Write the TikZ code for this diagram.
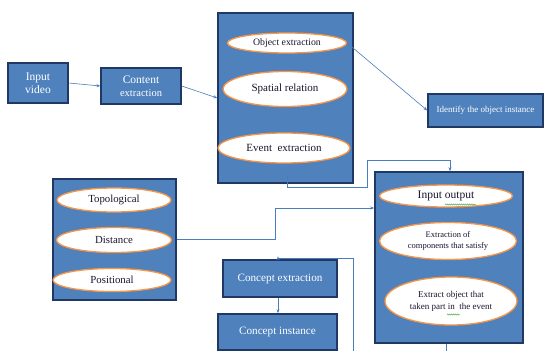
\documentclass[tikz,border=0pt]{standalone}
\usepackage{fontspec}
\setmainfont{Liberation Serif}
\usetikzlibrary{shapes.geometric,arrows.meta,decorations.pathmorphing}
\definecolor{boxblue}{HTML}{4F81BD}
\definecolor{boxedge}{HTML}{1F3864}
\definecolor{ovaledge}{HTML}{F79646}
\definecolor{connblue}{HTML}{4A7EBB}
\definecolor{ovaltext}{HTML}{1A1530}
\definecolor{spellgreen}{HTML}{3CA03C}
\newcommand\myfs[2]{\fontsize{#1}{#2}\selectfont}
\tikzset{
  bluebox/.style={draw=boxedge, fill=boxblue, line width=1.4pt, text=white,
    inner sep=0pt, align=center},
  oval/.style={ellipse, draw=ovaledge, fill=white, line width=1.3pt,
    text=ovaltext, inner sep=0pt, align=center},
  conn/.style={draw=connblue, line width=0.6pt},
  arr/.style={conn, -{Stealth[length=4pt,width=3pt]}},
  squiggle/.style={draw=spellgreen, line width=0.4pt,
    decorate, decoration={snake, amplitude=0.6pt, segment length=2pt}},
}
\begin{document}
\begin{tikzpicture}[x=1pt,y=-1pt]
\useasboundingbox (0,0) rectangle (544,351);
% boxes
\node[bluebox, minimum width=60pt, minimum height=40pt, font=\myfs{11.5}{13}] (invid) at (38,83) {Input\\video};
\node[bluebox, minimum width=80pt, minimum height=36pt, font=\myfs{11.5}{12.5}] (content) at (141,86) {Content\\{\myfs{10.5}{12}extraction}};
\node[bluebox, minimum width=135pt, minimum height=170pt] (big1) at (285.5,98) {};
\node[bluebox, minimum width=115pt, minimum height=33pt, font=\myfs{9}{10}] (identify) at (485.5,110.5) {Identify the object instance};
\node[bluebox, minimum width=123pt, minimum height=121pt] (leftbox) at (114.5,239.5) {};
\node[bluebox, minimum width=148pt, minimum height=171pt] (box2) at (449,257.5) {};
\node[bluebox, minimum width=114pt, minimum height=37pt, font=\myfs{11.2}{13}] (cext) at (280,278.5) {Concept extraction};
\node[bluebox, minimum width=119pt, minimum height=36pt, font=\myfs{11.2}{13}] (cinst) at (277.5,332) {Concept instance};
% ellipses
\node[oval, minimum width=119pt, minimum height=20pt, font=\myfs{9.8}{11}] (objext) at (287,43) {Object extraction};
\node[oval, minimum width=124pt, minimum height=35pt, font=\myfs{11}{13}] (spatial) at (285,89) {Spatial relation};
\node[oval, minimum width=132pt, minimum height=30pt, font=\myfs{11}{13}] (eventext) at (284,148) {Event\ \ extraction};
\node[oval, minimum width=133pt, minimum height=22pt, font=\myfs{11.5}{13}] (io) at (446,196) {Input output};
\node[oval, minimum width=137pt, minimum height=37pt, font=\myfs{8.5}{11}] (extcomp) at (448,241) {Extraction of\\components that satisfy};
\node[oval, minimum width=132pt, minimum height=48pt, font=\myfs{9}{12}] (extobj) at (451,301) {Extract object that\\taken part in\ \ the event};
\node[oval, minimum width=114pt, minimum height=24pt, font=\myfs{10.8}{12}] (topo) at (114,200) {Topological};
\node[oval, minimum width=115pt, minimum height=25pt, font=\myfs{10.8}{12}] (dist) at (114,240) {Distance};
\node[oval, minimum width=118pt, minimum height=23pt, font=\myfs{10.8}{12}] (posit) at (112,280) {Positional};
% spell-check marks
\coordinate (q1) at (445,204.5);
\coordinate (q2) at (476,204.5);
\coordinate (q3) at (447,314.5);
\coordinate (q4) at (460,314.5);
\draw[squiggle] (q1) -- (q2);
\draw[squiggle] (q3) -- (q4);
% bend coordinates
\coordinate (s1) at (287,176);
\coordinate (b1) at (367,187);
\coordinate (b2) at (450,160);
\coordinate (b3) at (275,208);
\coordinate (c1) at (353,351);
\coordinate (c2) at (278,258);
\coordinate (c3) at (446,351);
% connectors
\draw[arr] (invid.east) -- (content.west);
\draw[arr] (content.east) -- (big1.west);
\draw[arr] (objext.east) -- (identify.west);
\draw[arr] (s1) |- (b1) |- (b2) -- (b2 |- box2.north);
\draw[arr] (leftbox.east) -| (b3) -- (b3 -| box2.west);
\draw[arr] (c1) |- (c2) -- ([yshift=3pt]c2 |- cext.north);
\draw[arr] (c2 |- cext.south) -- (c2 |- cinst.north);
\draw[conn] (c3 |- box2.south) -- (c3);
\end{tikzpicture}
\end{document}
